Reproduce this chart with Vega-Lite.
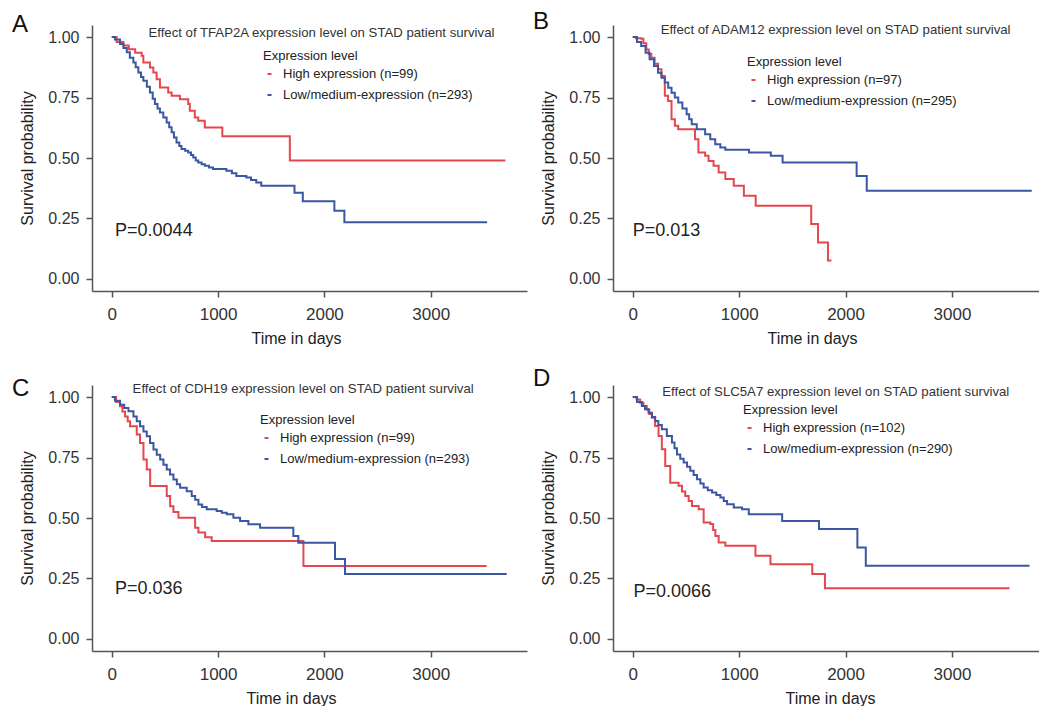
{
  "$schema": "https://vega.github.io/schema/vega-lite/v6.json",
  "background": "white",
  "padding": {"left": 12, "top": 10, "right": 0, "bottom": 0},
  "config": {
    "font": "Liberation Sans",
    "view": {"stroke": null},
    "title": {"anchor": "start", "frame": "group", "offset": 0, "baseline": "alphabetic", "fontSize": 24, "fontWeight": "normal", "color": "#111", "dx": -80},
    "axis": {"grid": false, "domainColor": "#555", "domainWidth": 1.5, "tickColor": "#555", "tickWidth": 1.5, "tickSize": 6, "labelFontSize": 16, "labelColor": "#333", "titleFontSize": 16, "titleFontWeight": "normal", "titleColor": "#222"},
    "axisX": {"labelPadding": 9, "titlePadding": 8, "labelFontSize": 17},
    "axisY": {"labelPadding": 7, "titlePadding": 12},
    "legend": {"orient": "none", "titleFontSize": 13, "titleFontWeight": "normal", "titleColor": "#222", "labelFontSize": 13, "labelColor": "#222", "labelLimit": 400, "symbolType": "stroke", "symbolSize": 16, "symbolStrokeWidth": 2, "rowPadding": 7, "labelOffset": 7, "titlePadding": 5, "padding": 0}
  },
  "datasets": {
    "A": [
      {"g": "High expression (n=99)", "t": 0, "s": 1.0},
      {"g": "High expression (n=99)", "t": 45, "s": 0.98},
      {"g": "High expression (n=99)", "t": 110, "s": 0.965},
      {"g": "High expression (n=99)", "t": 160, "s": 0.95},
      {"g": "High expression (n=99)", "t": 220, "s": 0.935},
      {"g": "High expression (n=99)", "t": 281, "s": 0.923},
      {"g": "High expression (n=99)", "t": 297, "s": 0.895},
      {"g": "High expression (n=99)", "t": 359, "s": 0.874},
      {"g": "High expression (n=99)", "t": 391, "s": 0.854},
      {"g": "High expression (n=99)", "t": 422, "s": 0.826},
      {"g": "High expression (n=99)", "t": 453, "s": 0.792},
      {"g": "High expression (n=99)", "t": 531, "s": 0.771},
      {"g": "High expression (n=99)", "t": 563, "s": 0.757},
      {"g": "High expression (n=99)", "t": 641, "s": 0.743},
      {"g": "High expression (n=99)", "t": 719, "s": 0.723},
      {"g": "High expression (n=99)", "t": 734, "s": 0.695},
      {"g": "High expression (n=99)", "t": 781, "s": 0.668},
      {"g": "High expression (n=99)", "t": 813, "s": 0.654},
      {"g": "High expression (n=99)", "t": 875, "s": 0.626},
      {"g": "High expression (n=99)", "t": 1040, "s": 0.59},
      {"g": "High expression (n=99)", "t": 1675, "s": 0.49},
      {"g": "High expression (n=99)", "t": 3703, "s": 0.49},
      {"g": "Low/medium-expression (n=293)", "t": 0, "s": 1.0},
      {"g": "Low/medium-expression (n=293)", "t": 30, "s": 0.99},
      {"g": "Low/medium-expression (n=293)", "t": 78, "s": 0.971},
      {"g": "Low/medium-expression (n=293)", "t": 110, "s": 0.955},
      {"g": "Low/medium-expression (n=293)", "t": 141, "s": 0.937},
      {"g": "Low/medium-expression (n=293)", "t": 170, "s": 0.915},
      {"g": "Low/medium-expression (n=293)", "t": 203, "s": 0.895},
      {"g": "Low/medium-expression (n=293)", "t": 225, "s": 0.875},
      {"g": "Low/medium-expression (n=293)", "t": 250, "s": 0.854},
      {"g": "Low/medium-expression (n=293)", "t": 275, "s": 0.835},
      {"g": "Low/medium-expression (n=293)", "t": 297, "s": 0.819},
      {"g": "Low/medium-expression (n=293)", "t": 330, "s": 0.795},
      {"g": "Low/medium-expression (n=293)", "t": 359, "s": 0.771},
      {"g": "Low/medium-expression (n=293)", "t": 385, "s": 0.745},
      {"g": "Low/medium-expression (n=293)", "t": 406, "s": 0.723},
      {"g": "Low/medium-expression (n=293)", "t": 430, "s": 0.705},
      {"g": "Low/medium-expression (n=293)", "t": 453, "s": 0.688},
      {"g": "Low/medium-expression (n=293)", "t": 485, "s": 0.668},
      {"g": "Low/medium-expression (n=293)", "t": 516, "s": 0.647},
      {"g": "Low/medium-expression (n=293)", "t": 540, "s": 0.627},
      {"g": "Low/medium-expression (n=293)", "t": 563, "s": 0.606},
      {"g": "Low/medium-expression (n=293)", "t": 585, "s": 0.585},
      {"g": "Low/medium-expression (n=293)", "t": 609, "s": 0.564},
      {"g": "Low/medium-expression (n=293)", "t": 635, "s": 0.55},
      {"g": "Low/medium-expression (n=293)", "t": 656, "s": 0.537},
      {"g": "Low/medium-expression (n=293)", "t": 690, "s": 0.53},
      {"g": "Low/medium-expression (n=293)", "t": 719, "s": 0.523},
      {"g": "Low/medium-expression (n=293)", "t": 745, "s": 0.512},
      {"g": "Low/medium-expression (n=293)", "t": 766, "s": 0.502},
      {"g": "Low/medium-expression (n=293)", "t": 790, "s": 0.49},
      {"g": "Low/medium-expression (n=293)", "t": 813, "s": 0.481},
      {"g": "Low/medium-expression (n=293)", "t": 845, "s": 0.474},
      {"g": "Low/medium-expression (n=293)", "t": 875, "s": 0.468},
      {"g": "Low/medium-expression (n=293)", "t": 915, "s": 0.461},
      {"g": "Low/medium-expression (n=293)", "t": 953, "s": 0.454},
      {"g": "Low/medium-expression (n=293)", "t": 1078, "s": 0.447},
      {"g": "Low/medium-expression (n=293)", "t": 1130, "s": 0.437},
      {"g": "Low/medium-expression (n=293)", "t": 1172, "s": 0.426},
      {"g": "Low/medium-expression (n=293)", "t": 1266, "s": 0.419},
      {"g": "Low/medium-expression (n=293)", "t": 1310, "s": 0.409},
      {"g": "Low/medium-expression (n=293)", "t": 1359, "s": 0.399},
      {"g": "Low/medium-expression (n=293)", "t": 1406, "s": 0.385},
      {"g": "Low/medium-expression (n=293)", "t": 1719, "s": 0.356},
      {"g": "Low/medium-expression (n=293)", "t": 1797, "s": 0.321},
      {"g": "Low/medium-expression (n=293)", "t": 2094, "s": 0.282},
      {"g": "Low/medium-expression (n=293)", "t": 2188, "s": 0.234},
      {"g": "Low/medium-expression (n=293)", "t": 3531, "s": 0.234}
    ],
    "B": [
      {"g": "High expression (n=97)", "t": 0, "s": 1.0},
      {"g": "High expression (n=97)", "t": 30, "s": 0.995},
      {"g": "High expression (n=97)", "t": 79, "s": 0.993},
      {"g": "High expression (n=97)", "t": 100, "s": 0.975},
      {"g": "High expression (n=97)", "t": 127, "s": 0.949},
      {"g": "High expression (n=97)", "t": 150, "s": 0.93},
      {"g": "High expression (n=97)", "t": 174, "s": 0.915},
      {"g": "High expression (n=97)", "t": 205, "s": 0.89},
      {"g": "High expression (n=97)", "t": 237, "s": 0.867},
      {"g": "High expression (n=97)", "t": 269, "s": 0.839},
      {"g": "High expression (n=97)", "t": 301, "s": 0.757},
      {"g": "High expression (n=97)", "t": 332, "s": 0.736},
      {"g": "High expression (n=97)", "t": 364, "s": 0.66},
      {"g": "High expression (n=97)", "t": 396, "s": 0.633},
      {"g": "High expression (n=97)", "t": 427, "s": 0.619},
      {"g": "High expression (n=97)", "t": 585, "s": 0.578},
      {"g": "High expression (n=97)", "t": 617, "s": 0.523},
      {"g": "High expression (n=97)", "t": 680, "s": 0.509},
      {"g": "High expression (n=97)", "t": 712, "s": 0.488},
      {"g": "High expression (n=97)", "t": 759, "s": 0.468},
      {"g": "High expression (n=97)", "t": 807, "s": 0.44},
      {"g": "High expression (n=97)", "t": 870, "s": 0.413},
      {"g": "High expression (n=97)", "t": 949, "s": 0.385},
      {"g": "High expression (n=97)", "t": 1044, "s": 0.344},
      {"g": "High expression (n=97)", "t": 1155, "s": 0.303},
      {"g": "High expression (n=97)", "t": 1677, "s": 0.227},
      {"g": "High expression (n=97)", "t": 1741, "s": 0.151},
      {"g": "High expression (n=97)", "t": 1835, "s": 0.076},
      {"g": "High expression (n=97)", "t": 1867, "s": 0.076},
      {"g": "Low/medium-expression (n=295)", "t": 0, "s": 1.0},
      {"g": "Low/medium-expression (n=295)", "t": 40, "s": 0.98},
      {"g": "Low/medium-expression (n=295)", "t": 79, "s": 0.963},
      {"g": "Low/medium-expression (n=295)", "t": 120, "s": 0.935},
      {"g": "Low/medium-expression (n=295)", "t": 158, "s": 0.908},
      {"g": "Low/medium-expression (n=295)", "t": 200, "s": 0.88},
      {"g": "Low/medium-expression (n=295)", "t": 237, "s": 0.853},
      {"g": "Low/medium-expression (n=295)", "t": 270, "s": 0.832},
      {"g": "Low/medium-expression (n=295)", "t": 301, "s": 0.812},
      {"g": "Low/medium-expression (n=295)", "t": 333, "s": 0.79},
      {"g": "Low/medium-expression (n=295)", "t": 364, "s": 0.77},
      {"g": "Low/medium-expression (n=295)", "t": 395, "s": 0.75},
      {"g": "Low/medium-expression (n=295)", "t": 427, "s": 0.729},
      {"g": "Low/medium-expression (n=295)", "t": 466, "s": 0.705},
      {"g": "Low/medium-expression (n=295)", "t": 506, "s": 0.681},
      {"g": "Low/medium-expression (n=295)", "t": 530, "s": 0.66},
      {"g": "Low/medium-expression (n=295)", "t": 554, "s": 0.64},
      {"g": "Low/medium-expression (n=295)", "t": 601, "s": 0.619},
      {"g": "Low/medium-expression (n=295)", "t": 680, "s": 0.598},
      {"g": "Low/medium-expression (n=295)", "t": 728, "s": 0.578},
      {"g": "Low/medium-expression (n=295)", "t": 775, "s": 0.557},
      {"g": "Low/medium-expression (n=295)", "t": 823, "s": 0.543},
      {"g": "Low/medium-expression (n=295)", "t": 870, "s": 0.534},
      {"g": "Low/medium-expression (n=295)", "t": 1092, "s": 0.523},
      {"g": "Low/medium-expression (n=295)", "t": 1297, "s": 0.509},
      {"g": "Low/medium-expression (n=295)", "t": 1408, "s": 0.481},
      {"g": "Low/medium-expression (n=295)", "t": 2104, "s": 0.426},
      {"g": "Low/medium-expression (n=295)", "t": 2199, "s": 0.365},
      {"g": "Low/medium-expression (n=295)", "t": 3750, "s": 0.365}
    ],
    "C": [
      {"g": "High expression (n=99)", "t": 0, "s": 1.0},
      {"g": "High expression (n=99)", "t": 40, "s": 0.98},
      {"g": "High expression (n=99)", "t": 78, "s": 0.962},
      {"g": "High expression (n=99)", "t": 100, "s": 0.94},
      {"g": "High expression (n=99)", "t": 125, "s": 0.92},
      {"g": "High expression (n=99)", "t": 150, "s": 0.9},
      {"g": "High expression (n=99)", "t": 172, "s": 0.879},
      {"g": "High expression (n=99)", "t": 235, "s": 0.845},
      {"g": "High expression (n=99)", "t": 266, "s": 0.81},
      {"g": "High expression (n=99)", "t": 298, "s": 0.742},
      {"g": "High expression (n=99)", "t": 329, "s": 0.701},
      {"g": "High expression (n=99)", "t": 361, "s": 0.632},
      {"g": "High expression (n=99)", "t": 517, "s": 0.591},
      {"g": "High expression (n=99)", "t": 549, "s": 0.549},
      {"g": "High expression (n=99)", "t": 580, "s": 0.525},
      {"g": "High expression (n=99)", "t": 627, "s": 0.501},
      {"g": "High expression (n=99)", "t": 784, "s": 0.46},
      {"g": "High expression (n=99)", "t": 815, "s": 0.44},
      {"g": "High expression (n=99)", "t": 878, "s": 0.42},
      {"g": "High expression (n=99)", "t": 940, "s": 0.405},
      {"g": "High expression (n=99)", "t": 1803, "s": 0.302},
      {"g": "High expression (n=99)", "t": 3527, "s": 0.302},
      {"g": "Low/medium-expression (n=293)", "t": 0, "s": 1.0},
      {"g": "Low/medium-expression (n=293)", "t": 30, "s": 0.985},
      {"g": "Low/medium-expression (n=293)", "t": 78, "s": 0.968},
      {"g": "Low/medium-expression (n=293)", "t": 117, "s": 0.955},
      {"g": "Low/medium-expression (n=293)", "t": 157, "s": 0.941},
      {"g": "Low/medium-expression (n=293)", "t": 204, "s": 0.92},
      {"g": "Low/medium-expression (n=293)", "t": 235, "s": 0.9},
      {"g": "Low/medium-expression (n=293)", "t": 266, "s": 0.879},
      {"g": "Low/medium-expression (n=293)", "t": 298, "s": 0.858},
      {"g": "Low/medium-expression (n=293)", "t": 329, "s": 0.838},
      {"g": "Low/medium-expression (n=293)", "t": 360, "s": 0.81},
      {"g": "Low/medium-expression (n=293)", "t": 392, "s": 0.783},
      {"g": "Low/medium-expression (n=293)", "t": 423, "s": 0.762},
      {"g": "Low/medium-expression (n=293)", "t": 455, "s": 0.742},
      {"g": "Low/medium-expression (n=293)", "t": 486, "s": 0.72},
      {"g": "Low/medium-expression (n=293)", "t": 517, "s": 0.701},
      {"g": "Low/medium-expression (n=293)", "t": 548, "s": 0.68},
      {"g": "Low/medium-expression (n=293)", "t": 580, "s": 0.659},
      {"g": "Low/medium-expression (n=293)", "t": 612, "s": 0.64},
      {"g": "Low/medium-expression (n=293)", "t": 643, "s": 0.625},
      {"g": "Low/medium-expression (n=293)", "t": 705, "s": 0.611},
      {"g": "Low/medium-expression (n=293)", "t": 752, "s": 0.591},
      {"g": "Low/medium-expression (n=293)", "t": 784, "s": 0.575},
      {"g": "Low/medium-expression (n=293)", "t": 815, "s": 0.556},
      {"g": "Low/medium-expression (n=293)", "t": 850, "s": 0.545},
      {"g": "Low/medium-expression (n=293)", "t": 893, "s": 0.536},
      {"g": "Low/medium-expression (n=293)", "t": 987, "s": 0.529},
      {"g": "Low/medium-expression (n=293)", "t": 1035, "s": 0.522},
      {"g": "Low/medium-expression (n=293)", "t": 1082, "s": 0.515},
      {"g": "Low/medium-expression (n=293)", "t": 1144, "s": 0.501},
      {"g": "Low/medium-expression (n=293)", "t": 1207, "s": 0.488},
      {"g": "Low/medium-expression (n=293)", "t": 1285, "s": 0.474},
      {"g": "Low/medium-expression (n=293)", "t": 1395, "s": 0.46},
      {"g": "Low/medium-expression (n=293)", "t": 1708, "s": 0.426},
      {"g": "Low/medium-expression (n=293)", "t": 1755, "s": 0.398},
      {"g": "Low/medium-expression (n=293)", "t": 2100, "s": 0.33},
      {"g": "Low/medium-expression (n=293)", "t": 2194, "s": 0.268},
      {"g": "Low/medium-expression (n=293)", "t": 3715, "s": 0.268}
    ],
    "D": [
      {"g": "High expression (n=102)", "t": 0, "s": 1.0},
      {"g": "High expression (n=102)", "t": 35, "s": 0.99},
      {"g": "High expression (n=102)", "t": 69, "s": 0.977},
      {"g": "High expression (n=102)", "t": 100, "s": 0.963},
      {"g": "High expression (n=102)", "t": 132, "s": 0.949},
      {"g": "High expression (n=102)", "t": 155, "s": 0.93},
      {"g": "High expression (n=102)", "t": 179, "s": 0.915},
      {"g": "High expression (n=102)", "t": 210, "s": 0.88},
      {"g": "High expression (n=102)", "t": 242, "s": 0.839},
      {"g": "High expression (n=102)", "t": 273, "s": 0.784},
      {"g": "High expression (n=102)", "t": 305, "s": 0.715},
      {"g": "High expression (n=102)", "t": 352, "s": 0.646},
      {"g": "High expression (n=102)", "t": 430, "s": 0.633},
      {"g": "High expression (n=102)", "t": 462, "s": 0.61},
      {"g": "High expression (n=102)", "t": 493, "s": 0.591},
      {"g": "High expression (n=102)", "t": 525, "s": 0.57},
      {"g": "High expression (n=102)", "t": 556, "s": 0.55},
      {"g": "High expression (n=102)", "t": 619, "s": 0.536},
      {"g": "High expression (n=102)", "t": 666, "s": 0.481},
      {"g": "High expression (n=102)", "t": 729, "s": 0.475},
      {"g": "High expression (n=102)", "t": 755, "s": 0.45},
      {"g": "High expression (n=102)", "t": 776, "s": 0.426},
      {"g": "High expression (n=102)", "t": 807, "s": 0.399},
      {"g": "High expression (n=102)", "t": 870, "s": 0.385},
      {"g": "High expression (n=102)", "t": 1153, "s": 0.344},
      {"g": "High expression (n=102)", "t": 1294, "s": 0.309},
      {"g": "High expression (n=102)", "t": 1687, "s": 0.268},
      {"g": "High expression (n=102)", "t": 1806, "s": 0.21},
      {"g": "High expression (n=102)", "t": 3541, "s": 0.21},
      {"g": "Low/medium-expression (n=290)", "t": 0, "s": 1.0},
      {"g": "Low/medium-expression (n=290)", "t": 40, "s": 0.98},
      {"g": "Low/medium-expression (n=290)", "t": 85, "s": 0.963},
      {"g": "Low/medium-expression (n=290)", "t": 115, "s": 0.95},
      {"g": "Low/medium-expression (n=290)", "t": 148, "s": 0.935},
      {"g": "Low/medium-expression (n=290)", "t": 180, "s": 0.918},
      {"g": "Low/medium-expression (n=290)", "t": 210, "s": 0.901},
      {"g": "Low/medium-expression (n=290)", "t": 240, "s": 0.885},
      {"g": "Low/medium-expression (n=290)", "t": 273, "s": 0.867},
      {"g": "Low/medium-expression (n=290)", "t": 320, "s": 0.839},
      {"g": "Low/medium-expression (n=290)", "t": 368, "s": 0.812},
      {"g": "Low/medium-expression (n=290)", "t": 392, "s": 0.788},
      {"g": "Low/medium-expression (n=290)", "t": 415, "s": 0.763},
      {"g": "Low/medium-expression (n=290)", "t": 446, "s": 0.745},
      {"g": "Low/medium-expression (n=290)", "t": 478, "s": 0.729},
      {"g": "Low/medium-expression (n=290)", "t": 510, "s": 0.712},
      {"g": "Low/medium-expression (n=290)", "t": 540, "s": 0.695},
      {"g": "Low/medium-expression (n=290)", "t": 572, "s": 0.678},
      {"g": "Low/medium-expression (n=290)", "t": 603, "s": 0.66},
      {"g": "Low/medium-expression (n=290)", "t": 635, "s": 0.643},
      {"g": "Low/medium-expression (n=290)", "t": 666, "s": 0.626},
      {"g": "Low/medium-expression (n=290)", "t": 705, "s": 0.615},
      {"g": "Low/medium-expression (n=290)", "t": 745, "s": 0.605},
      {"g": "Low/medium-expression (n=290)", "t": 785, "s": 0.595},
      {"g": "Low/medium-expression (n=290)", "t": 823, "s": 0.585},
      {"g": "Low/medium-expression (n=290)", "t": 855, "s": 0.57},
      {"g": "Low/medium-expression (n=290)", "t": 886, "s": 0.557},
      {"g": "Low/medium-expression (n=290)", "t": 949, "s": 0.543},
      {"g": "Low/medium-expression (n=290)", "t": 1027, "s": 0.536},
      {"g": "Low/medium-expression (n=290)", "t": 1090, "s": 0.516},
      {"g": "Low/medium-expression (n=290)", "t": 1404, "s": 0.488},
      {"g": "Low/medium-expression (n=290)", "t": 1750, "s": 0.454},
      {"g": "Low/medium-expression (n=290)", "t": 2111, "s": 0.378},
      {"g": "Low/medium-expression (n=290)", "t": 2190, "s": 0.303},
      {"g": "Low/medium-expression (n=290)", "t": 3729, "s": 0.303}
    ]
  },
  "columns": 2,
  "spacing": {"row": 94, "column": 86},
  "bounds": "flush",
  "resolve": {"scale": {"color": "independent", "x": "independent", "y": "independent"}, "legend": {"color": "independent"}},
  "concat": [
    {
      "width": 435, "height": 266,
      "title": {"text": "A", "dy": 16},
      "layer": [
        {
          "data": {"name": "A"},
          "mark": {"type": "line", "interpolate": "step-after", "strokeWidth": 2},
          "encoding": {
            "x": {"field": "t", "type": "quantitative", "scale": {"domain": [-186, 3906], "nice": false, "zero": false}, "axis": {"values": [0, 1000, 2000, 3000], "format": "d", "title": "Time in days", "titleX": 204}},
            "y": {"field": "s", "type": "quantitative", "scale": {"domain": [-0.05, 1.05], "nice": false, "zero": false}, "axis": {"values": [0, 0.25, 0.5, 0.75, 1], "format": ".2f", "title": "Survival probability"}},
            "color": {"field": "g", "type": "nominal", "scale": {"domain": ["High expression (n=99)", "Low/medium-expression (n=293)"], "range": ["#E5474F", "#3B56A3"]}, "legend": {"title": "Expression level", "legendX": 171, "legendY": 24.5}}
          }
        },
        {
          "data": {"values": [{}]},
          "mark": {"type": "text", "fontSize": 13.2, "color": "#333", "align": "center", "baseline": "middle"},
          "encoding": {"x": {"datum": 1972}, "y": {"datum": 1.017}, "text": {"value": "Effect of TFAP2A expression level on STAD patient survival"}}
        },
        {
          "data": {"values": [{}]},
          "mark": {"type": "text", "fontSize": 18, "color": "#222", "align": "left", "baseline": "middle"},
          "encoding": {"x": {"datum": 31}, "y": {"datum": 0.197}, "text": {"value": "P=0.0044"}}
        }
      ]
    },
    {
      "width": 426, "height": 266,
      "title": {"text": "B", "dy": 15},
      "layer": [
        {
          "data": {"name": "B"},
          "mark": {"type": "line", "interpolate": "step-after", "strokeWidth": 2},
          "encoding": {
            "x": {"field": "t", "type": "quantitative", "scale": {"domain": [-186, 3818], "nice": false, "zero": false}, "axis": {"values": [0, 1000, 2000, 3000], "format": "d", "title": "Time in days", "titleX": 199}},
            "y": {"field": "s", "type": "quantitative", "scale": {"domain": [-0.05, 1.05], "nice": false, "zero": false}, "axis": {"values": [0, 0.25, 0.5, 0.75, 1], "format": ".2f", "title": "Survival probability"}},
            "color": {"field": "g", "type": "nominal", "scale": {"domain": ["High expression (n=97)", "Low/medium-expression (n=295)"], "range": ["#E5474F", "#3B56A3"]}, "legend": {"title": "Expression level", "legendX": 134, "legendY": 30.5}}
          }
        },
        {
          "data": {"values": [{}]},
          "mark": {"type": "text", "fontSize": 13.2, "color": "#333", "align": "center", "baseline": "middle"},
          "encoding": {"x": {"datum": 1906}, "y": {"datum": 1.029}, "text": {"value": "Effect of ADAM12 expression level on STAD patient survival"}}
        },
        {
          "data": {"values": [{}]},
          "mark": {"type": "text", "fontSize": 18, "color": "#222", "align": "left", "baseline": "middle"},
          "encoding": {"x": {"datum": 0}, "y": {"datum": 0.197}, "text": {"value": "P=0.013"}}
        }
      ]
    },
    {
      "width": 435, "height": 266,
      "title": {"text": "C", "dy": 23},
      "layer": [
        {
          "data": {"name": "C"},
          "mark": {"type": "line", "interpolate": "step-after", "strokeWidth": 2},
          "encoding": {
            "x": {"field": "t", "type": "quantitative", "scale": {"domain": [-186, 3906], "nice": false, "zero": false}, "axis": {"values": [0, 1000, 2000, 3000], "format": "d", "title": "Time in days", "titleX": 199}},
            "y": {"field": "s", "type": "quantitative", "scale": {"domain": [-0.05, 1.05], "nice": false, "zero": false}, "axis": {"values": [0, 0.25, 0.5, 0.75, 1], "format": ".2f", "title": "Survival probability"}},
            "color": {"field": "g", "type": "nominal", "scale": {"domain": ["High expression (n=99)", "Low/medium-expression (n=293)"], "range": ["#E5474F", "#3B56A3"]}, "legend": {"title": "Expression level", "legendX": 168, "legendY": 28.5}}
          }
        },
        {
          "data": {"values": [{}]},
          "mark": {"type": "text", "fontSize": 13.2, "color": "#333", "align": "center", "baseline": "middle"},
          "encoding": {"x": {"datum": 1800}, "y": {"datum": 1.034}, "text": {"value": "Effect of CDH19 expression level on STAD patient survival"}}
        },
        {
          "data": {"values": [{}]},
          "mark": {"type": "text", "fontSize": 18, "color": "#222", "align": "left", "baseline": "middle"},
          "encoding": {"x": {"datum": 31}, "y": {"datum": 0.206}, "text": {"value": "P=0.036"}}
        }
      ]
    },
    {
      "width": 426, "height": 266,
      "title": {"text": "D", "dy": 10},
      "layer": [
        {
          "data": {"name": "D"},
          "mark": {"type": "line", "interpolate": "step-after", "strokeWidth": 2},
          "encoding": {
            "x": {"field": "t", "type": "quantitative", "scale": {"domain": [-186, 3818], "nice": false, "zero": false}, "axis": {"values": [0, 1000, 2000, 3000], "format": "d", "title": "Time in days", "titleX": 217}},
            "y": {"field": "s", "type": "quantitative", "scale": {"domain": [-0.05, 1.05], "nice": false, "zero": false}, "axis": {"values": [0, 0.25, 0.5, 0.75, 1], "format": ".2f", "title": "Survival probability"}},
            "color": {"field": "g", "type": "nominal", "scale": {"domain": ["High expression (n=102)", "Low/medium-expression (n=290)"], "range": ["#E5474F", "#3B56A3"]}, "legend": {"title": "Expression level", "legendX": 130, "legendY": 18.5}}
          }
        },
        {
          "data": {"values": [{}]},
          "mark": {"type": "text", "fontSize": 13.2, "color": "#333", "align": "center", "baseline": "middle"},
          "encoding": {"x": {"datum": 1908}, "y": {"datum": 1.021}, "text": {"value": "Effect of SLC5A7 expression level on STAD patient survival"}}
        },
        {
          "data": {"values": [{}]},
          "mark": {"type": "text", "fontSize": 18, "color": "#222", "align": "left", "baseline": "middle"},
          "encoding": {"x": {"datum": 6}, "y": {"datum": 0.193}, "text": {"value": "P=0.0066"}}
        }
      ]
    }
  ]
}
